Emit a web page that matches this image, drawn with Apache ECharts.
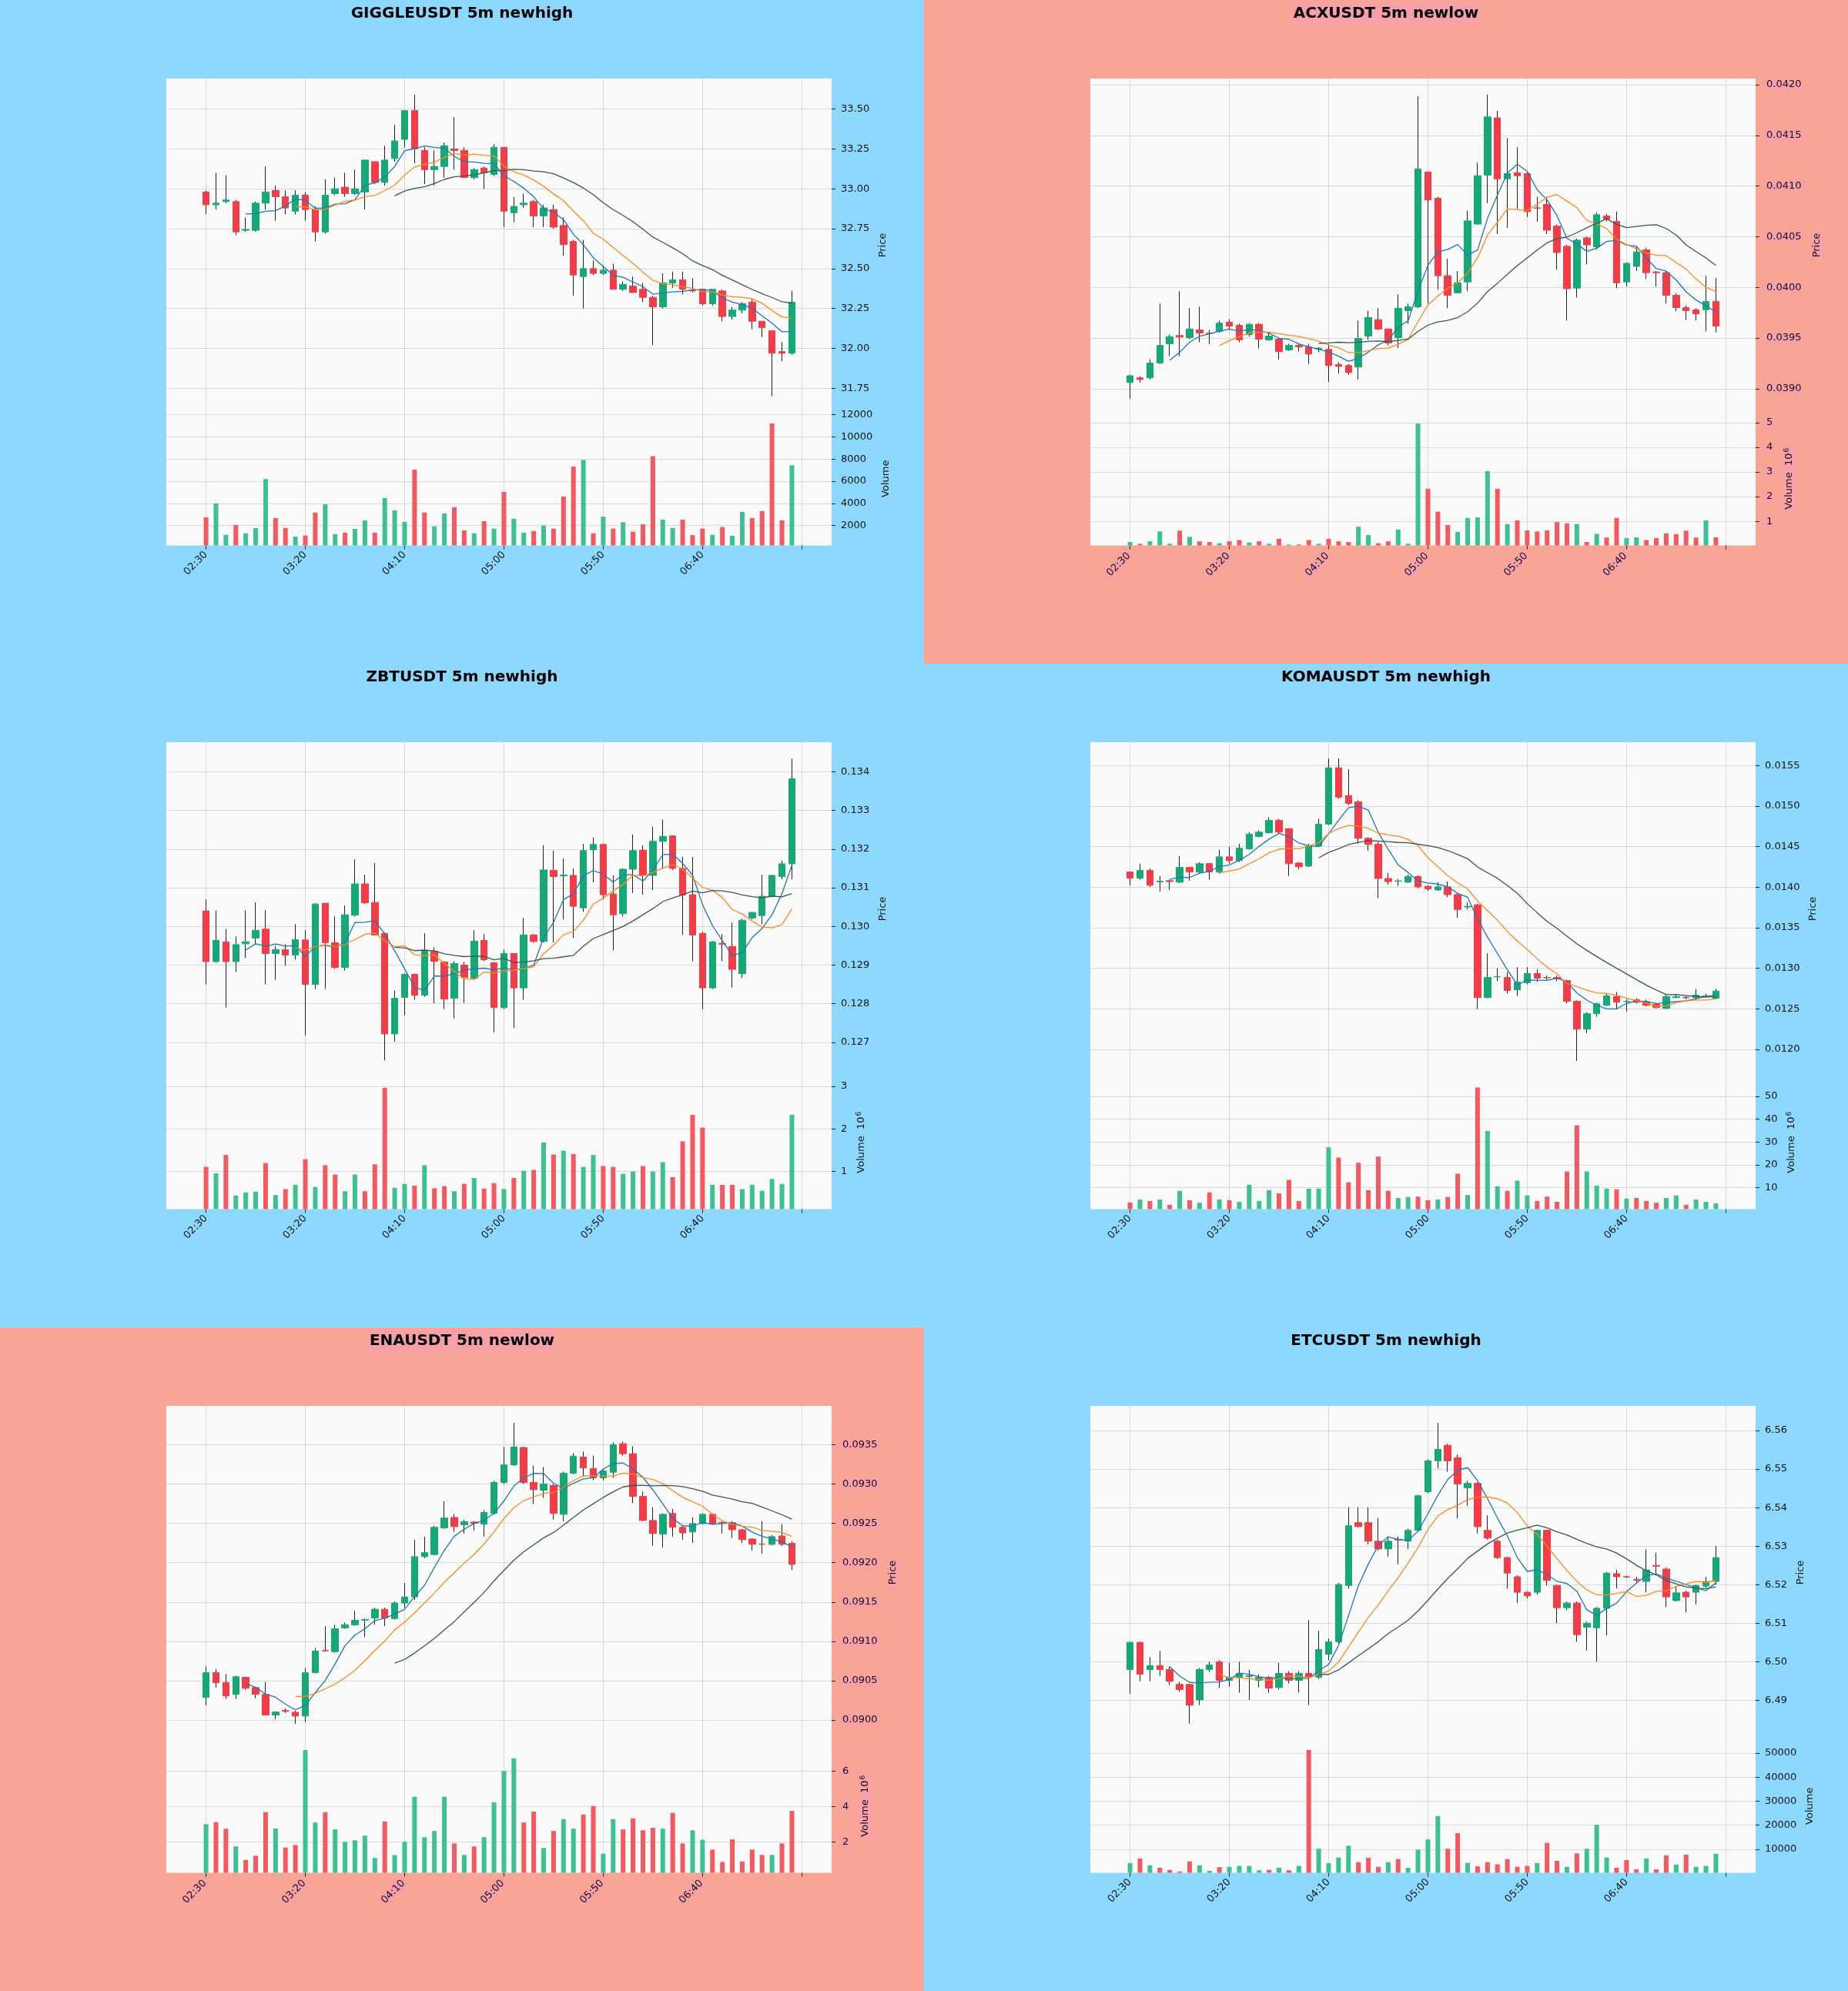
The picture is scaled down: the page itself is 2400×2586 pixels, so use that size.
<!DOCTYPE html>
<html><head><meta charset="utf-8">
<script src="https://cdn.jsdelivr.net/npm/echarts@6/dist/echarts.min.js"></script>
<style>
body{margin:0;width:2400px;height:2586px;position:relative;overflow:hidden;background:#fff;}
.p{position:absolute;width:1200px;height:862px;}
</style></head><body>
<div id="c0" class="p" style="left:0;top:0"></div>
<div id="c1" class="p" style="left:1200px;top:0"></div>
<div id="c2" class="p" style="left:0;top:862px"></div>
<div id="c3" class="p" style="left:1200px;top:862px"></div>
<div id="c4" class="p" style="left:0;top:1724px"></div>
<div id="c5" class="p" style="left:1200px;top:1724px"></div>
<script>
// ---------- categories ----------
const TIMES = ['02:30','02:35','02:40','02:45','02:50','02:55','03:00','03:05','03:10','03:15',
'03:20','03:25','03:30','03:35','03:40','03:45','03:50','03:55','04:00','04:05',
'04:10','04:15','04:20','04:25','04:30','04:35','04:40','04:45','04:50','04:55',
'05:00','05:05','05:10','05:15','05:20','05:25','05:30','05:35','05:40','05:45',
'05:50','05:55','06:00','06:05','06:10','06:15','06:20','06:25','06:30','06:35',
'06:40','06:45','06:50','06:55','07:00','07:05','07:10','07:15','07:20','07:25'];
const PAD_BEFORE = ['02:10','02:15','02:20','02:25'];
const PAD_AFTER = ['07:30','07:35','07:40','07:45'];

// ---------- GIGGLEUSDT [open, high, low, close] ----------
const GIGGLE_OHLC = [
[32.98,32.99,32.84,32.90],[32.90,33.10,32.87,32.91],[32.92,33.085,32.91,32.93],[32.92,32.93,32.71,32.73],[32.74,32.82,32.73,32.745],
[32.74,32.92,32.73,32.91],[32.91,33.14,32.87,32.98],[32.99,33.02,32.80,32.95],[32.95,32.99,32.84,32.88],[32.86,32.99,32.84,32.96],
[32.96,32.98,32.80,32.87],[32.87,32.89,32.67,32.73],[32.73,33.06,32.72,32.96],[32.97,33.07,32.96,33.00],[33.01,33.10,32.95,32.97],
[32.97,33.12,32.96,33.00],[32.98,33.18,32.87,33.18],[33.17,33.17,33.03,33.04],[33.04,33.27,33.02,33.18],[33.19,33.40,33.17,33.30],
[33.31,33.49,33.26,33.49],[33.49,33.59,33.16,33.25],[33.24,33.26,33.03,33.12],[33.12,33.24,33.02,33.14],[33.14,33.29,33.07,33.27],
[33.25,33.45,33.12,33.24],[33.24,33.26,33.07,33.07],[33.07,33.13,33.06,33.12],[33.13,33.14,33.00,33.10],[33.09,33.28,33.08,33.26],
[33.26,33.26,32.76,32.86],[32.85,32.95,32.79,32.89],[32.90,32.97,32.88,32.91],[32.92,32.93,32.76,32.83],[32.83,32.90,32.76,32.88],
[32.87,32.90,32.75,32.76],[32.77,32.82,32.58,32.65],[32.67,32.68,32.33,32.46],[32.45,32.68,32.25,32.50],[32.50,32.55,32.46,32.47],
[32.47,32.52,32.46,32.49],[32.49,32.53,32.37,32.37],[32.37,32.42,32.36,32.40],[32.39,32.45,32.35,32.35],[32.37,32.41,32.29,32.32],
[32.32,32.33,32.02,32.26],[32.26,32.47,32.25,32.41],[32.41,32.48,32.38,32.43],[32.43,32.48,32.34,32.37],[32.365,32.44,32.35,32.36],
[32.37,32.37,32.27,32.28],[32.28,32.37,32.27,32.37],[32.36,32.37,32.17,32.20],[32.20,32.26,32.18,32.24],[32.24,32.29,32.22,32.28],
[32.29,32.31,32.12,32.17],[32.17,32.17,32.07,32.13],[32.11,32.11,31.70,31.97],[31.98,32.04,31.92,31.97],[31.97,32.36,31.96,32.29]];
const GIGGLE_VOL = [2750,4000,1160,2050,1300,1770,6190,2670,1780,990,1100,3170,3920,1220,1360,1690,2470,1360,4480,3360,
2330,7030,3170,1920,3090,3650,1550,1300,2390,1720,5040,2610,1360,1500,2000,1720,4620,7310,7920,1300,
2800,1720,2300,1440,2110,8260,2530,1780,2530,1130,1720,1160,1860,1080,3230,2670,3310,11210,2470,7440];
const GIGGLE_PRICE_TICKS = [31.75,32.00,32.25,32.50,32.75,33.00,33.25,33.50];
const GIGGLE_VOL_TICKS = [2000,4000,6000,8000,10000,12000];

// ---------- ACXUSDT ----------
const ACX_OHLC = [
[0.039061,0.039137,0.038902,0.039128],[0.039107,0.039122,0.039061,0.039091],[0.039107,0.039290,0.039091,0.039253],[0.039253,0.039840,0.039244,0.039427],[0.039443,0.039534,0.039321,0.039513],
[0.039525,0.039962,0.039321,0.039510],[0.039504,0.039794,0.039489,0.039589],[0.039580,0.039809,0.039458,0.039550],[0.039550,0.039580,0.039440,0.039545],[0.039565,0.039672,0.039550,0.039647],
[0.039657,0.039687,0.039580,0.039617],[0.039626,0.039641,0.039458,0.039482],[0.039534,0.039647,0.039513,0.039635],[0.039635,0.039647,0.039397,0.039489],[0.039482,0.039550,0.039473,0.039519],
[0.039489,0.039504,0.039290,0.039366],[0.039382,0.039443,0.039372,0.039427],[0.039427,0.039443,0.039366,0.039412],[0.039412,0.039443,0.039244,0.039342],[0.039390,0.039410,0.039360,0.039400],
[0.039388,0.039443,0.039067,0.039229],[0.039238,0.039260,0.039150,0.039220],[0.039229,0.039244,0.039137,0.039159],[0.039214,0.039672,0.039091,0.039495],[0.039519,0.039770,0.039482,0.039702],
[0.039681,0.039794,0.039580,0.039589],[0.039589,0.039595,0.039427,0.039452],[0.039504,0.039932,0.039403,0.039794],[0.039770,0.039840,0.039641,0.039809],[0.039809,0.041887,0.039794,0.041169],
[0.041138,0.041144,0.039840,0.040863],[0.040879,0.040894,0.039977,0.040115],[0.040115,0.040283,0.039794,0.039922],[0.039947,0.040161,0.039941,0.040045],[0.040054,0.040757,0.039962,0.040656],
[0.040625,0.041230,0.040619,0.041102],[0.041108,0.041902,0.040833,0.041682],[0.041673,0.041743,0.040527,0.041071],[0.041071,0.041474,0.040588,0.041123],[0.041132,0.041383,0.040772,0.041102],
[0.041123,0.041132,0.040695,0.040747],[0.040785,0.040894,0.040650,0.040780],[0.040818,0.040894,0.040527,0.040564],[0.040604,0.040619,0.040176,0.040344],[0.040405,0.040420,0.039672,0.039987],
[0.039993,0.040481,0.039900,0.040466],[0.040488,0.040503,0.040228,0.040420],[0.040399,0.040741,0.040375,0.040717],[0.040705,0.040726,0.040650,0.040674],[0.040650,0.040747,0.039993,0.040045],
[0.040054,0.040246,0.040008,0.040237],[0.040207,0.040405,0.040161,0.040350],[0.040369,0.040390,0.040084,0.040145],[0.040152,0.040161,0.040008,0.040145],[0.040145,0.040161,0.039840,0.039922],
[0.039922,0.039941,0.039764,0.039800],[0.039800,0.039818,0.039678,0.039770],[0.039779,0.039794,0.039672,0.039739],[0.039779,0.040115,0.039565,0.039861],[0.039861,0.040094,0.039556,0.039617]];
const ACX_VOL = [0.16,0.09,0.19,0.59,0.09,0.62,0.37,0.19,0.16,0.11,0.19,0.24,0.14,0.19,0.09,0.29,0.06,0.06,0.24,0.09,
0.29,0.19,0.16,0.78,0.44,0.11,0.19,0.67,0.09,4.96,2.32,1.39,0.85,0.57,1.14,1.16,3.04,2.32,0.89,1.04,
0.63,0.59,0.63,0.97,0.92,0.89,0.16,0.49,0.34,1.14,0.32,0.35,0.24,0.32,0.51,0.48,0.62,0.34,1.04,0.35];
const ACX_PRICE_TICKS = [0.0390,0.0395,0.0400,0.0405,0.0410,0.0415,0.0420];
const ACX_VOL_TICKS = [1,2,3,4,5];

// ---------- ZBTUSDT ----------
const ZBT_OHLC = [
[0.13040,0.13070,0.12850,0.12909],[0.12909,0.13041,0.12906,0.12964],[0.12960,0.12993,0.12790,0.12909],[0.12909,0.12974,0.12882,0.12953],[0.12955,0.13042,0.12918,0.12960],
[0.12970,0.13062,0.12953,0.12990],[0.12993,0.13042,0.12850,0.12930],[0.12930,0.12950,0.12862,0.12940],[0.12940,0.12954,0.12898,0.12926],[0.12926,0.13006,0.12914,0.12966],
[0.12965,0.12990,0.12718,0.12850],[0.12850,0.13060,0.12838,0.13058],[0.13060,0.13060,0.12838,0.12958],[0.12958,0.13026,0.12890,0.12894],[0.12894,0.13054,0.12886,0.13030],
[0.13029,0.13174,0.13026,0.13110],[0.13110,0.13134,0.13058,0.13061],[0.13062,0.13164,0.12978,0.12978],[0.12982,0.12984,0.12654,0.12722],[0.12722,0.12834,0.12702,0.12814],
[0.12816,0.12878,0.12770,0.12876],[0.12876,0.12878,0.12810,0.12822],[0.12822,0.12982,0.12818,0.12938],[0.12936,0.12946,0.12801,0.12910],[0.12908,0.12910,0.12786,0.12812],
[0.12814,0.12910,0.12762,0.12904],[0.12900,0.12908,0.12802,0.12868],[0.12866,0.12990,0.12862,0.12962],[0.12964,0.12980,0.12910,0.12914],[0.12906,0.12908,0.12726,0.12790],
[0.12790,0.12940,0.12786,0.12930],[0.12930,0.12930,0.12737,0.12841],[0.12841,0.13022,0.12810,0.12978],[0.12978,0.12980,0.12958,0.12961],[0.12961,0.13210,0.12958,0.13146],
[0.13145,0.13196,0.12958,0.13129],[0.13131,0.13176,0.13018,0.13133],[0.13132,0.13150,0.12970,0.13052],[0.13048,0.13214,0.13038,0.13196],[0.13198,0.13230,0.13114,0.13212],
[0.13212,0.13214,0.13070,0.13082],[0.13084,0.13132,0.12938,0.13030],[0.13033,0.13150,0.13026,0.13148],[0.13148,0.13238,0.13086,0.13196],[0.13197,0.13210,0.13082,0.13132],
[0.13132,0.13258,0.13094,0.13220],[0.13220,0.13276,0.13150,0.13233],[0.13234,0.13236,0.13146,0.13150],[0.13150,0.13180,0.12978,0.13081],[0.13082,0.13180,0.12910,0.12978],
[0.12982,0.12986,0.12786,0.12841],[0.12841,0.12962,0.12838,0.12960],[0.12956,0.12980,0.12910,0.12954],[0.12948,0.13010,0.12842,0.12889],[0.12878,0.13020,0.12866,0.13016],
[0.13022,0.13038,0.13018,0.13036],[0.13028,0.13134,0.13006,0.13078],[0.13078,0.13134,0.13078,0.13132],[0.13129,0.13170,0.13122,0.13162],[0.13162,0.13434,0.13122,0.13382]];
const ZBT_VOL = [1.11,0.96,1.39,0.44,0.51,0.53,1.20,0.45,0.59,0.69,1.29,0.64,1.15,0.93,0.54,0.93,0.54,1.17,2.96,0.62,
0.71,0.67,1.15,0.61,0.66,0.54,0.71,0.85,0.60,0.73,0.59,0.85,1.02,1.04,1.68,1.40,1.49,1.41,1.11,1.39,
1.13,1.11,0.95,1.00,1.13,1.00,1.22,0.87,1.71,2.33,2.03,0.69,0.69,0.69,0.59,0.69,0.55,0.83,0.71,2.33];
const ZBT_PRICE_TICKS = [0.127,0.128,0.129,0.130,0.131,0.132,0.133,0.134];
const ZBT_VOL_TICKS = [1,2,3];

// ---------- KOMAUSDT ----------
const KOMA_OHLC = [
[0.014187,0.014195,0.014023,0.014111],[0.014111,0.014290,0.014092,0.014206],[0.014206,0.014233,0.014004,0.014023],[0.014065,0.014137,0.013947,0.014073],[0.014080,0.014092,0.013966,0.014069],
[0.014061,0.014385,0.014050,0.014244],[0.014244,0.014252,0.014080,0.014187],[0.014187,0.014309,0.014175,0.014290],[0.014290,0.014298,0.014092,0.014187],[0.014187,0.014462,0.014168,0.014374],
[0.014374,0.014500,0.014290,0.014328],[0.014328,0.014538,0.014309,0.014481],[0.014473,0.014679,0.014462,0.014653],[0.014626,0.014698,0.014615,0.014679],[0.014672,0.014863,0.014664,0.014824],
[0.014824,0.014844,0.014664,0.014679],[0.014721,0.014729,0.014137,0.014290],[0.014298,0.014309,0.014221,0.014252],[0.014260,0.014538,0.014252,0.014508],[0.014508,0.014844,0.014500,0.014775],
[0.014779,0.015588,0.014767,0.015473],[0.015473,0.015588,0.015092,0.015111],[0.015130,0.015454,0.015015,0.015034],[0.015053,0.015073,0.014538,0.014603],[0.014603,0.014615,0.014450,0.014527],
[0.014531,0.014557,0.013863,0.014107],[0.014107,0.014175,0.014031,0.014069],[0.014073,0.014099,0.014015,0.014077],[0.014061,0.014156,0.014053,0.014130],[0.014130,0.014145,0.013985,0.014004],
[0.014011,0.014023,0.013954,0.013977],[0.013966,0.014061,0.013954,0.014004],[0.014004,0.014069,0.013878,0.013908],[0.013908,0.013927,0.013622,0.013725],[0.013756,0.013813,0.013725,0.013763],
[0.013782,0.013794,0.012496,0.012637],[0.012637,0.013183,0.012630,0.012885],[0.012893,0.013000,0.012840,0.012895],[0.012885,0.012954,0.012687,0.012725],[0.012733,0.013011,0.012657,0.012828],
[0.012821,0.013011,0.012802,0.012935],[0.012935,0.012985,0.012832,0.012878],[0.012885,0.012908,0.012859,0.012882],[0.012885,0.012908,0.012840,0.012870],[0.012847,0.012859,0.012565,0.012592],
[0.012592,0.012603,0.011855,0.012248],[0.012248,0.012458,0.012198,0.012439],[0.012439,0.012573,0.012401,0.012561],[0.012542,0.012687,0.012534,0.012657],[0.012649,0.012706,0.012496,0.012580],
[0.012588,0.012618,0.012466,0.012592],[0.012611,0.012630,0.012565,0.012580],[0.012584,0.012611,0.012527,0.012542],[0.012553,0.012573,0.012504,0.012515],[0.012504,0.012668,0.012496,0.012649],
[0.012637,0.012680,0.012630,0.012649],[0.012640,0.012657,0.012618,0.012635],[0.012637,0.012744,0.012611,0.012668],[0.012645,0.012687,0.012634,0.012660],[0.012630,0.012744,0.012618,0.012718]];
const KOMA_VOL = [3.5,4.8,4.2,4.8,2.5,8.6,4.5,3.4,7.9,4.8,4.5,3.8,11.3,4.2,8.9,7.5,13.4,4.2,9.6,9.6,
27.7,23.2,12.4,20.9,8.9,23.6,8.6,5.5,5.9,6.1,4.5,4.8,5.9,16.1,6.8,53.9,34.8,10.6,8.6,13.1,
6.6,4.2,6.1,3.8,17.1,37.3,17.1,10.9,9.6,9.3,5.2,5.5,4.2,3.4,5.5,6.6,2.5,4.8,3.8,3.1];
const KOMA_PRICE_TICKS = [0.0120,0.0125,0.0130,0.0135,0.0140,0.0145,0.0150,0.0155];
const KOMA_VOL_TICKS = [10,20,30,40,50];

// ---------- ENAUSDT ----------
const ENA_OHLC = [
[0.090287,0.090680,0.090189,0.090602],[0.090602,0.090649,0.090413,0.090476],[0.090476,0.090582,0.090268,0.090307],[0.090327,0.090563,0.090268,0.090551],[0.090543,0.090551,0.090386,0.090405],
[0.090413,0.090425,0.090279,0.090327],[0.090327,0.090484,0.090059,0.090063],[0.090063,0.090110,0.090012,0.090102],[0.090122,0.090150,0.090091,0.090110],[0.090099,0.090118,0.089953,0.090051],
[0.090051,0.090661,0.089973,0.090602],[0.090602,0.090916,0.090594,0.090877],[0.090885,0.091192,0.090869,0.090880],[0.090869,0.091211,0.090857,0.091160],[0.091172,0.091239,0.091160,0.091211],
[0.091211,0.091388,0.091200,0.091270],[0.091270,0.091290,0.091055,0.091278],[0.091298,0.091428,0.091211,0.091408],[0.091408,0.091428,0.091192,0.091298],[0.091290,0.091506,0.091278,0.091487],
[0.091487,0.091742,0.091428,0.091565],[0.091565,0.092293,0.091526,0.092077],[0.092077,0.092332,0.092057,0.092128],[0.092104,0.092470,0.092096,0.092450],[0.092442,0.092784,0.092430,0.092568],
[0.092576,0.092615,0.092391,0.092458],[0.092482,0.092548,0.092371,0.092521],[0.092517,0.092529,0.092411,0.092501],[0.092489,0.092666,0.092332,0.092639],[0.092627,0.093040,0.092615,0.093020],
[0.093020,0.093472,0.093001,0.093244],[0.093244,0.093779,0.093229,0.093472],[0.093465,0.093472,0.093001,0.093020],[0.093020,0.093236,0.092745,0.092930],[0.092922,0.093217,0.092824,0.093001],
[0.092981,0.093001,0.092548,0.092627],[0.092615,0.093158,0.092529,0.093138],[0.093138,0.093394,0.093126,0.093354],[0.093343,0.093413,0.093099,0.093205],[0.093197,0.093362,0.093048,0.093079],
[0.093079,0.093189,0.093048,0.093166],[0.093150,0.093531,0.093079,0.093500],[0.093512,0.093539,0.093362,0.093386],[0.093386,0.093480,0.092757,0.092843],[0.092843,0.092902,0.092529,0.092537],
[0.092537,0.092706,0.092214,0.092371],[0.092364,0.092627,0.092194,0.092615],[0.092627,0.092686,0.092332,0.092450],[0.092450,0.092470,0.092293,0.092379],[0.092391,0.092576,0.092253,0.092497],
[0.092497,0.092627,0.092489,0.092615],[0.092615,0.092627,0.092482,0.092497],[0.092510,0.092529,0.092371,0.092505],[0.092509,0.092529,0.092312,0.092419],[0.092419,0.092430,0.092253,0.092293],
[0.092301,0.092312,0.092155,0.092234],[0.092238,0.092529,0.092116,0.092234],[0.092234,0.092352,0.092222,0.092332],[0.092340,0.092489,0.092214,0.092234],[0.092246,0.092273,0.091907,0.091978]];
const ENA_VOL = [3.0,3.11,2.74,1.74,0.98,1.21,3.67,2.75,1.68,1.82,7.18,3.09,3.67,2.70,2.0,2.09,2.35,1.09,3.14,1.25,
2.0,4.54,2.26,2.61,4.54,1.91,1.26,1.74,2.26,4.23,6.0,6.70,3.09,3.70,1.65,2.61,3.28,2.74,3.54,4.02,
1.33,3.28,2.70,3.32,2.65,2.79,2.74,3.63,1.91,2.65,2.12,1.56,0.86,2.14,0.89,1.56,1.26,1.26,1.91,3.75];
const ENA_PRICE_TICKS = [0.0900,0.0905,0.0910,0.0915,0.0920,0.0925,0.0930,0.0935];
const ENA_VOL_TICKS = [2,4,6];

// ---------- ETCUSDT ----------
const ETC_OHLC = [
[6.49801,6.50523,6.49176,6.50507],[6.50507,6.50523,6.49496,6.49681],[6.49801,6.50122,6.49496,6.49905],[6.49905,6.50282,6.49641,6.49801],[6.49801,6.49881,6.49400,6.49496],
[6.49416,6.49480,6.49224,6.49280],[6.49416,6.49440,6.48398,6.48879],[6.49015,6.49841,6.48879,6.49801],[6.49801,6.50002,6.49737,6.49921],[6.50002,6.50042,6.49320,6.49520],
[6.49520,6.49980,6.49360,6.49600],[6.49600,6.50002,6.49200,6.49705],[6.49620,6.49800,6.49015,6.49640],[6.49520,6.49680,6.49340,6.49600],[6.49600,6.49640,6.49200,6.49320],
[6.49336,6.49977,6.49280,6.49705],[6.49705,6.49760,6.49440,6.49520],[6.49520,6.49760,6.49200,6.49705],[6.49705,6.51084,6.48879,6.49600],[6.49600,6.50804,6.49560,6.50322],
[6.50202,6.50603,6.50042,6.50523],[6.50523,6.52046,6.50483,6.52006],[6.51982,6.54011,6.51902,6.53530],[6.53610,6.54011,6.53490,6.53506],[6.53610,6.54011,6.53049,6.53129],
[6.53129,6.53731,6.52889,6.52929],[6.52929,6.53249,6.52728,6.53129],[6.53180,6.53250,6.52530,6.53160],[6.53129,6.53450,6.52929,6.53410],[6.53410,6.54332,6.53370,6.54308],
[6.54412,6.55254,6.54372,6.55214],[6.55214,6.56200,6.55014,6.55511],[6.55615,6.55655,6.54933,6.55214],[6.55294,6.55375,6.53715,6.54613],[6.54516,6.54693,6.54051,6.54629],
[6.54629,6.54653,6.53330,6.53506],[6.53410,6.53795,6.53169,6.53209],[6.53129,6.53169,6.52672,6.52704],[6.52704,6.52728,6.51902,6.52303],[6.52207,6.52247,6.51525,6.51806],
[6.51806,6.51822,6.51646,6.51710],[6.51806,6.53426,6.51742,6.53410],[6.53410,6.53426,6.51982,6.52111],[6.51982,6.52006,6.51004,6.51405],[6.51405,6.51565,6.51341,6.51525],
[6.51525,6.51565,6.50523,6.50707],[6.50900,6.51044,6.50298,6.51004],[6.50884,6.51421,6.50002,6.51389],[6.51389,6.52327,6.50683,6.52303],[6.52287,6.52383,6.51902,6.52207],
[6.52210,6.52230,6.52180,6.52200],[6.52140,6.52210,6.52050,6.52120],[6.52086,6.52913,6.51806,6.52383],[6.52500,6.52830,6.52250,6.52480],[6.52407,6.52447,6.51421,6.51686],
[6.51589,6.51966,6.51565,6.51790],[6.51806,6.51846,6.51285,6.51686],[6.51806,6.52006,6.51485,6.51982],[6.51966,6.52207,6.51926,6.52086],[6.52086,6.53009,6.52006,6.52704]];
const ETC_VOL = [4270,6210,3360,2330,1420,780,4920,3360,1040,2590,2720,3110,3110,1290,1420,2330,1290,3110,51240,10220,
4270,6600,11520,4660,6470,2720,4660,5950,2330,9830,14100,23810,10220,16690,4400,2980,4660,3750,5950,2720,
3110,4270,12680,5180,2720,8280,10220,20190,6600,2330,5560,1680,6210,1680,7500,3620,7760,2720,3110,8150];
const ETC_PRICE_TICKS = [6.49,6.50,6.51,6.52,6.53,6.54,6.55,6.56];
const ETC_VOL_TICKS = [10000,20000,30000,40000,50000];

const MA_PERIODS = [5, 10, 20];

// ---------- styles ----------
const FONT = 'DejaVu Sans';
const BG_HIGH = '#8cd8ff', BG_LOW = '#f8a595', LABEL_BOX = '#f7a0a9';
const UP = '#16a978', DOWN = '#f23c48', VUP = '#3cc193', VDOWN = '#f5585f';
const MA_COLORS = ['#1f77b4', '#ff8a1e', '#3b5754'];
const GRID_COLOR = '#d9d9d9';

const PANELS = [
 {id:'c0', title:'GIGGLEUSDT 5m newhigh', kind:'high', ohlc:GIGGLE_OHLC, vol:GIGGLE_VOL, pMin:31.602, pMax:33.691, pTicks:GIGGLE_PRICE_TICKS, pDec:2, vMin:200, vMax:12250, vTicks:GIGGLE_VOL_TICKS, vExp:false, pGap:54, vGap:56},
 {id:'c1', title:'ACXUSDT 5m newlow', kind:'low', ohlc:ACX_OHLC, vol:ACX_VOL, pMin:0.038771, pMax:0.042061, pTicks:ACX_PRICE_TICKS, pDec:4, vMin:0.02, vMax:5.44, vTicks:ACX_VOL_TICKS, vExp:true, pGap:61, vGap:26},
 {id:'c2', title:'ZBTUSDT 5m newhigh', kind:'high', ohlc:ZBT_OHLC, vol:ZBT_VOL, pMin:0.126142, pMax:0.134765, pTicks:ZBT_PRICE_TICKS, pDec:3, vMin:0.12, vMax:3.25, vTicks:ZBT_VOL_TICKS, vExp:true, pGap:54, vGap:26},
 {id:'c3', title:'KOMAUSDT 5m newhigh', kind:'high', ohlc:KOMA_OHLC, vol:KOMA_VOL, pMin:0.011675, pMax:0.015789, pTicks:KOMA_PRICE_TICKS, pDec:4, vMin:0.6, vMax:59.1, vTicks:KOMA_VOL_TICKS, vExp:true, pGap:62, vGap:34},
 {id:'c4', title:'ENAUSDT 5m newlow', kind:'low', ohlc:ENA_OHLC, vol:ENA_VOL, pMin:0.089756, pMax:0.093994, pTicks:ENA_PRICE_TICKS, pDec:4, vMin:0.25, vMax:7.79, vTicks:ENA_VOL_TICKS, vExp:true, pGap:63, vGap:26},
 {id:'c5', title:'ETCUSDT 5m newhigh', kind:'high', ohlc:ETC_OHLC, vol:ETC_VOL, pMin:6.47995, pMax:6.56638, pTicks:ETC_PRICE_TICKS, pDec:2, vMin:230, vMax:55740, vTicks:ETC_VOL_TICKS, vExp:false, pGap:45, vGap:57}
];

function movingAverage(closes, n, offset) {
  const out = [];
  for (let i = n - 1; i < closes.length; i++) {
    let s = 0;
    for (let j = i - n + 1; j <= i; j++) s += closes[j];
    out.push([i + offset, s / n]);
  }
  return out;
}

function build(p) {
  const PAD = PAD_BEFORE.length;
  const cats = PAD_BEFORE.concat(TIMES, PAD_AFTER);
  const isTick = (idx) => idx >= PAD && (idx - PAD) % 10 === 0;
  const isLabel = (idx) => isTick(idx) && idx < PAD + TIMES.length;
  const low = p.kind === 'low';
  const box = low ? {backgroundColor: LABEL_BOX, padding: [1, 2]} : {};
  const closes = p.ohlc.map(r => r[3]);
  const wick = p.ohlc.map((r, i) => [i + PAD, r[0], r[3], r[2], r[1]]);
  const body = p.ohlc.map((r, i) => [i + PAD, r[0], r[3], Math.min(r[0], r[3]), Math.max(r[0], r[3])]);
  const vol = p.vol.map((v, i) => ({value: [i + PAD, v], itemStyle: {color: p.ohlc[i][3] >= p.ohlc[i][0] ? VUP : VDOWN}}));
  const splitLineX = {show: true, interval: isTick, lineStyle: {color: GRID_COLOR, width: 1}};
  const txt = Object.assign({fontFamily: FONT, fontSize: 13, color: '#111'}, box);

  const xBase = {type: 'category', data: cats, boundaryGap: false, axisLine: {show: false}};
  const series = [
    {type: 'candlestick', name: 'wick', xAxisIndex: 0, yAxisIndex: 0, data: wick, encode: {x: 0, y: [1, 2, 3, 4]},
     barWidth: 0.6, z: 2, silent: true,
     itemStyle: {color: '#222', color0: '#222', borderColor: '#222', borderColor0: '#222', borderWidth: 1}},
    {type: 'candlestick', name: 'body', xAxisIndex: 0, yAxisIndex: 0, data: body, encode: {x: 0, y: [1, 2, 3, 4]},
     barWidth: 9, z: 3, silent: true,
     itemStyle: {color: UP, color0: DOWN, borderColor: UP, borderColor0: DOWN, borderWidth: 1}},
    {type: 'bar', name: 'volume', xAxisIndex: 1, yAxisIndex: 1, data: vol, barWidth: 6, silent: true}
  ];
  MA_PERIODS.forEach((n, k) => {
    series.push({type: 'line', name: 'MA' + n, xAxisIndex: 0, yAxisIndex: 0, data: movingAverage(closes, n, PAD),
      showSymbol: false, symbol: 'none', z: 5, silent: true, smooth: false,
      lineStyle: {color: MA_COLORS[k], width: 1.3}});
  });

  const volName = p.vExp ? '{a|Volume  10}{b|6}' : 'Volume';
  return {
    animation: false,
    backgroundColor: low ? BG_LOW : BG_HIGH,
    textStyle: {fontFamily: FONT},
    title: {text: p.title, left: 'center', top: 4, padding: [4, 1],
      backgroundColor: low ? LABEL_BOX : 'transparent',
      textStyle: {fontFamily: FONT, fontSize: 20, fontWeight: 'bold', color: '#000'}},
    grid: [
      {left: 216, top: 102, width: 864, height: 433, show: true, backgroundColor: '#fafafa', borderWidth: 0},
      {left: 216, top: 535, width: 864, height: 173.5, show: true, backgroundColor: '#fafafa', borderWidth: 0}
    ],
    xAxis: [
      Object.assign({}, xBase, {gridIndex: 0, axisTick: {show: false}, axisLabel: {show: false}, splitLine: splitLineX}),
      Object.assign({}, xBase, {gridIndex: 1,
        axisTick: {show: true, interval: isTick, length: 5, lineStyle: {color: '#222'}},
        axisLabel: Object.assign({show: true, interval: isLabel, rotate: 45, margin: 10}, txt),
        splitLine: splitLineX})
    ],
    yAxis: [
      {type: 'value', gridIndex: 0, position: 'right', min: p.pMin, max: p.pMax, scale: true,
       axisLine: {show: false},
       axisTick: {show: true, length: 5, customValues: p.pTicks, lineStyle: {color: '#222'}},
       axisLabel: Object.assign({customValues: p.pTicks, margin: 12, formatter: v => Number(v).toFixed(p.pDec)}, txt),
       splitLine: {show: true, lineStyle: {color: GRID_COLOR, width: 1}},
       name: 'Price', nameLocation: 'middle', nameRotate: 90, nameGap: p.pGap,
       nameTextStyle: txt},
      {type: 'value', gridIndex: 1, position: 'right', min: p.vMin, max: p.vMax,
       axisLine: {show: false},
       axisTick: {show: true, length: 5, customValues: p.vTicks, lineStyle: {color: '#222'}},
       axisLabel: Object.assign({customValues: p.vTicks, margin: 12, formatter: v => String(v)}, txt),
       splitLine: {show: true, lineStyle: {color: GRID_COLOR, width: 1}},
       name: volName, nameLocation: 'middle', nameRotate: 90, nameGap: p.vGap,
       nameTextStyle: Object.assign({}, txt, {rich: {
         a: {fontFamily: FONT, fontSize: 13, color: '#111'},
         b: {fontFamily: FONT, fontSize: 9, color: '#111', verticalAlign: 'top', padding: [0, 0, 6, 1]}}})}
    ],
    series: series
  };
}

PANELS.forEach(p => {
  const el = document.getElementById(p.id);
  const chart = echarts.init(el, null, {renderer: 'canvas', width: 1200, height: 862});
  chart.setOption(build(p));
});
</script>
</body></html>
